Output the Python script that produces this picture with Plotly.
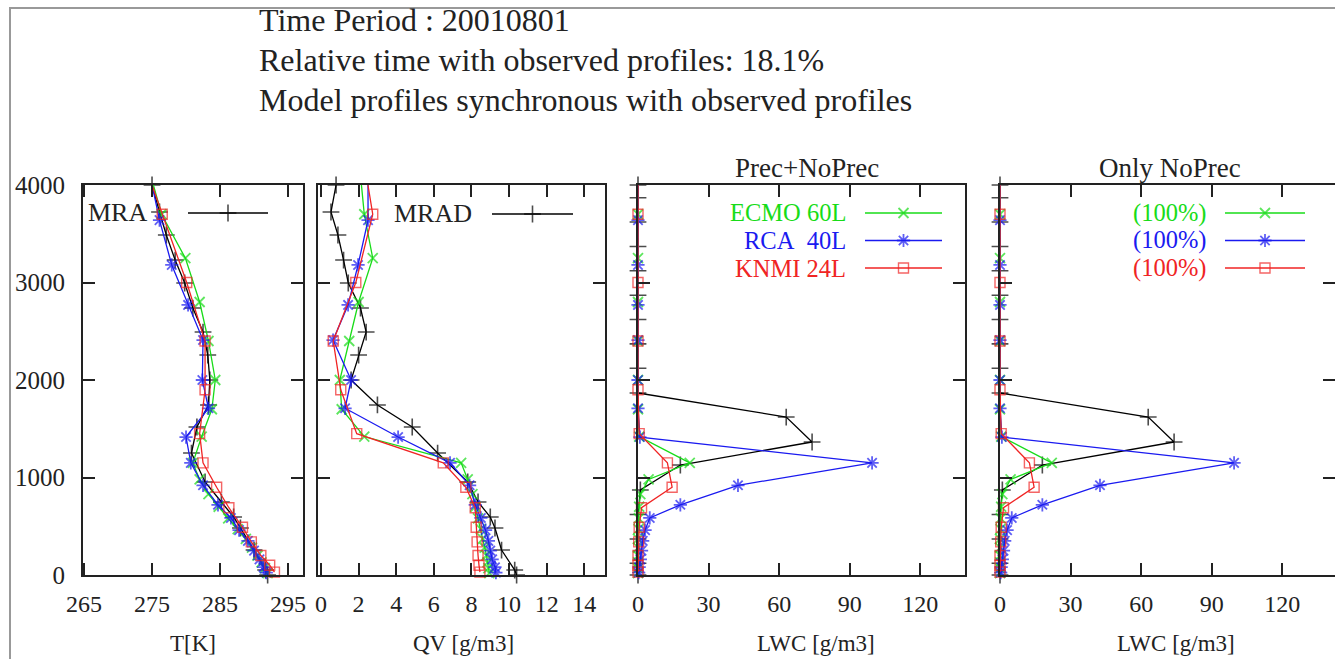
import plotly.graph_objects as go

# ---------------- data ----------------
# observed (MRA / MRAD)
obs_height = [0, 51, 256, 482, 595, 749, 954, 1251, 1518, 1744, 2000, 2256, 2492, 2738, 2995, 3230, 3487, 3723, 4000]
obs_T = [292.0, 291.7, 290.0, 288.0, 287.0, 285.2, 282.8, 280.8, 281.6, 283.3, 283.5, 283.2, 282.5, 281.0, 279.8, 278.4, 277.1, 276.1, 275.0]
obs_QV = [10.4, 10.3, 9.6, 9.25, 9.0, 8.35, 7.8, 6.2, 4.85, 3.0, 1.6, 2.0, 2.4, 2.1, 1.45, 1.2, 0.9, 0.53, 0.8]
obs_lwc_height = [0, 120, 370, 620, 872, 1128, 1364, 1620, 1867, 2120, 2370, 2620, 2870, 3120, 3370, 3620, 3870, 4000]
obs_LWC = [0, 0, 0, 0, 1, 18, 74, 63, 0, 0, 0, 0, 0, 0, 0, 0, 0, 0]

# ECMO 60L
ecmo_height = [4300, 3700, 3250, 2800, 2400, 2000, 1700, 1420, 1150, 980, 830, 700, 580, 470, 370, 280, 200, 130, 70, 20]
ecmo_T = [274.0, 276.4, 279.9, 282.0, 283.3, 284.3, 283.8, 282.3, 281.0, 282.0, 283.3, 284.8, 286.2, 287.6, 288.8, 289.7, 290.5, 291.1, 291.6, 292.0]
ecmo_QV = [2.0, 2.3, 2.75, 2.0, 1.5, 1.0, 1.1, 2.3, 7.45, 7.8, 8.05, 8.2, 8.35, 8.5, 8.6, 8.7, 8.8, 8.85, 8.9, 8.95]
ecmo_LWC = [0, 0, 0, 0, 0, 0, 0, 0.5, 22, 4.5, 1, 0.5, 0.3, 0.2, 0, 0, 0, 0, 0, 0]

# RCA 40L
rca_height = [4300, 3640, 3180, 2770, 2410, 2000, 1710, 1415, 1150, 920, 720, 585, 460, 350, 250, 160, 80, 25]
rca_T = [274.1, 276.1, 277.9, 280.3, 282.5, 282.4, 283.3, 280.0, 280.7, 282.5, 284.7, 286.6, 287.8, 289.1, 290.0, 290.8, 291.4, 291.8]
rca_QV = [2.5, 2.5, 1.97, 1.44, 0.64, 1.6, 1.28, 4.1, 6.86, 7.9, 8.2, 8.5, 8.75, 8.9, 9.0, 9.1, 9.25, 9.3]
rca_LWC = [0, 0, 0, 0, 0, 0, 0, 0.8, 99.5, 42.5, 18, 5, 3, 2, 1.5, 1, 0.5, 0.3]

# KNMI 24L
knmi_height = [4350, 3700, 3000, 2400, 1900, 1450, 1150, 900, 690, 490, 340, 200, 100, 30]
knmi_T = [273.2, 276.5, 280.1, 282.8, 282.8, 282.0, 282.5, 284.5, 286.3, 288.3, 289.6, 291.0, 292.3, 293.0]
knmi_QV = [2.2, 2.75, 1.85, 0.65, 1.05, 1.9, 6.5, 7.7, 8.2, 8.25, 8.3, 8.35, 8.4, 8.45]
knmi_LWC = [0, 0, 0, 0, 0, 0.5, 12.5, 14.5, 1.5, 0.5, 0.3, 0, 0, 0]

height_ticks = [0, 1000, 2000, 3000, 4000]
T_ticks = [265, 275, 285, 295]
QV_ticks = [0, 2, 4, 6, 8, 10, 12, 14]
LWC_ticks = [0, 30, 60, 90, 120]

header_lines = ["Time Period : 20010801",
                "Relative time with observed profiles: 18.1%",
                "Model profiles synchronous with observed profiles"]
model_names_all = ["ECMO 60L", "RCA\u00a0 40L", "KNMI 24L"]
model_names_noprec = ["(100%)", "(100%)", "(100%)"]

# ---------------- style ----------------
W, H = 1335, 659
FONT = "Liberation Serif"
GREEN, BLUE, RED, BLACK = "#18dc18", "#1a1af0", "#f02424", "#000000"
YMAX = 4000

styles = {
    "obs": dict(color=BLACK, symbol="cross-thin-open", size=12, lw=1.6),
    "ecmo": dict(color=GREEN, symbol="x-thin-open", size=10, lw=1.8),
    "rca": dict(color=BLUE, symbol="asterisk-open", size=11, lw=1.8),
    "knmi": dict(color=RED, symbol="square-open", size=10, lw=1.4),
}


def px(x):
    return x / W


def py(y):
    return 1 - y / H


fig = go.Figure()


def add_series(xs, hs, key, ax):
    st = styles[key]
    fig.add_trace(go.Scatter(
        x=xs, y=hs, xaxis="x" + ax, yaxis="y" + ax,
        mode="lines+markers", cliponaxis=False, showlegend=False,
        line=dict(color=st["color"], width=1.3),
        marker=dict(symbol=st["symbol"],
                    size=[st["size"] if h <= YMAX else 0 for h in hs],
                    color=st["color"], line=dict(color=st["color"], width=st["lw"])),
        hoverinfo="x+y"))


panels = [
    ("", [(obs_T, obs_height, "obs"), (ecmo_T, ecmo_height, "ecmo"), (rca_T, rca_height, "rca"), (knmi_T, knmi_height, "knmi")]),
    ("2", [(obs_QV, obs_height, "obs"), (ecmo_QV, ecmo_height, "ecmo"), (rca_QV, rca_height, "rca"), (knmi_QV, knmi_height, "knmi")]),
    ("3", [(obs_LWC, obs_lwc_height, "obs"), (ecmo_LWC, ecmo_height, "ecmo"), (rca_LWC, rca_height, "rca"), (knmi_LWC, knmi_height, "knmi")]),
    ("4", [(obs_LWC, obs_lwc_height, "obs"), (ecmo_LWC, ecmo_height, "ecmo"), (rca_LWC, rca_height, "rca"), (knmi_LWC, knmi_height, "knmi")]),
]
for ax, series in panels:
    for xs, hs, key in series:
        add_series(xs, hs, key, ax)

# ---------------- axes ----------------
ydom = [py(575), py(185)]
xdoms = [[px(83), px(303)], [px(318), px(605)], [px(638), px(965)], [px(1000), 1.0]]
xranges = [[264.85, 297.2], [-0.16, 15.1], [0, 139.0], [0, 142.4]]
xticks = [T_ticks, QV_ticks, LWC_ticks, LWC_ticks]

common = dict(showline=True, linecolor="#222", linewidth=2, mirror="ticks",
              ticks="inside", ticklen=12, tickwidth=1.5, tickcolor="#222",
              showgrid=False, zeroline=False, automargin=False)
layout = {}
for i, nm in enumerate(["", "2", "3", "4"]):
    layout["xaxis" + nm] = dict(domain=xdoms[i], range=xranges[i], anchor="y" + nm,
                                tickmode="array", tickvals=xticks[i], ticklabelstandoff=6,
                                tickfont=dict(family=FONT, size=24, color="#222"), **common)
    layout["yaxis" + nm] = dict(domain=ydom, range=[0, YMAX], anchor="x" + nm,
                                tickmode="array", tickvals=height_ticks,
                                showticklabels=(i == 0), ticklabelstandoff=11,
                                tickfont=dict(family=FONT, size=25, color="#222"), **common)

# overlay pixel-space axes for legend keys
layout["xaxis5"] = dict(domain=[0, 1], range=[0, W], anchor="y5", visible=False,
                        fixedrange=True, automargin=False)
layout["yaxis5"] = dict(domain=[0, 1], range=[H, 0], anchor="x5", visible=False,
                        fixedrange=True, automargin=False)

fig.update_layout(width=W, height=H, margin=dict(l=0, r=0, t=0, b=0, pad=0, autoexpand=False),
                  paper_bgcolor="white", plot_bgcolor="rgba(0,0,0,0)", **layout)


# ---------------- legend keys ----------------
def key_sample(key, x0, x1, y):
    st = styles[key]
    fig.add_trace(go.Scatter(
        x=[x0, (x0 + x1) / 2, x1], y=[y, y, y], xaxis="x5", yaxis="y5",
        mode="lines+markers", showlegend=False, hoverinfo="skip",
        line=dict(color=st["color"], width=1.3),
        marker=dict(symbol=st["symbol"], size=[0, st["size"], 0], color=st["color"],
                    line=dict(color=st["color"], width=st["lw"]))))


def key_text(text, tx, y, color, fs):
    fig.add_annotation(text=text, x=px(tx), y=py(y), xref="paper", yref="paper",
                       xanchor="right", yanchor="middle", showarrow=False, borderpad=0,
                       font=dict(family=FONT, size=fs, color=color))


# observation legends (panels 1, 2)
for text, tx, x0, x1, y in [("MRA", 148, 188, 268, 213), ("MRAD", 473, 492, 573, 214)]:
    key_sample("obs", x0, x1, y)
    key_text(text, tx, y, "#222", 26)

# model legends (panels 3, 4)
model_keys = ["ecmo", "rca", "knmi"]
row_y = [213, 240.5, 268]
for names, tx, x0, x1 in [(model_names_all, 847, 865, 942),
                          (model_names_noprec, 1207, 1225, 1305)]:
    for key, name, y in zip(model_keys, names, row_y):
        key_sample(key, x0, x1, y)
        key_text(name, tx, y, styles[key]["color"], 24.5)

# ---------------- texts ----------------
for i, line in enumerate(header_lines):
    fig.add_annotation(text=line, x=px(258), y=py(20 + 40 * i), xref="paper", yref="paper",
                       xanchor="left", yanchor="middle", showarrow=False, borderpad=0,
                       font=dict(family=FONT, size=32, color="#222"))

for text, cx in [("Prec+NoPrec", 807), ("Only NoPrec", 1170)]:
    fig.add_annotation(text=text, x=px(cx), y=py(168), xref="paper", yref="paper",
                       xanchor="center", yanchor="middle", showarrow=False, borderpad=0,
                       font=dict(family=FONT, size=27, color="#222"))

for text, cx in [("T[K]", 193), ("QV [g/m3]", 463), ("LWC [g/m3]", 816), ("LWC [g/m3]", 1176)]:
    fig.add_annotation(text=text, x=px(cx), y=py(643), xref="paper", yref="paper",
                       xanchor="center", yanchor="middle", showarrow=False, borderpad=0,
                       font=dict(family=FONT, size=23, color="#222"))

# outer grey frame
fig.add_shape(type="rect", xref="paper", yref="paper", x0=px(10), x1=1.05, y0=-0.05, y1=py(8),
              line=dict(color="#999", width=2), fillcolor="rgba(0,0,0,0)", layer="below")

fig.write_html("out.html")
